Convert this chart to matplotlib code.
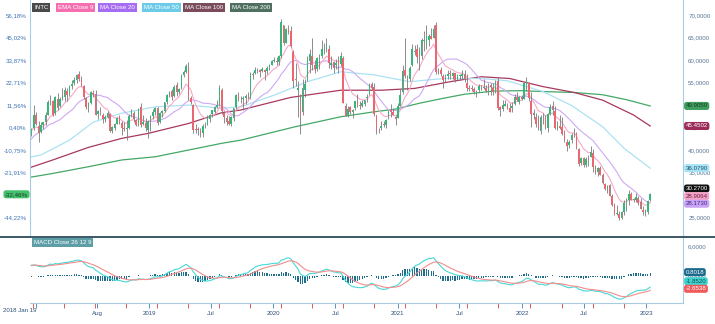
import numpy as np
import pandas as pd
import matplotlib
matplotlib.use("Agg")
import matplotlib.pyplot as plt
import matplotlib.dates as mdates
import matplotlib.transforms as mtrans

plt.rcParams['font.family'] = ['Liberation Sans', 'DejaVu Sans']

# ---------------- data (weekly INTC, Fridays from 2018-01-19) ----------------
start_date = "2018-01-19"
first_close = 44.82

opens = [
    # 2018
    43.6, 45.0, 48.0, 45.5, 44.2, 45.6, 46.3, 48.0, 50.9, 51.0, 48.3, 51.4, 49.8, 51.6, 52.0,
    53.2, 52.5, 54.4, 54.9, 55.6, 57.0, 55.6, 54.3, 51.6, 49.8, 50.6, 52.8, 52.6, 48.1, 48.7,
    48.0, 47.0, 47.5, 48.2, 44.4, 45.0, 46.0, 47.5, 46.2, 45.0, 44.7, 45.0, 47.8, 48.3, 46.7,
    45.8, 49.6, 46.0, 46.2, 44.5,
    # 2019
    46.9, 47.6, 48.5, 49.4, 46.4, 48.4, 48.8, 50.7, 52.5, 53.2, 52.2, 54.5, 53.0, 54.0, 56.7,
    57.5, 58.5, 51.6, 50.2, 44.8, 44.7, 44.4, 43.9, 45.6, 45.7, 47.1, 48.1, 48.6, 49.7, 50.5,
    53.5, 48.3, 47.2, 46.5, 45.9, 47.2, 49.6, 52.3, 51.3, 51.5, 51.6, 52.0, 51.8, 56.8, 57.3,
    57.9, 57.8, 57.7, 58.0, 57.6, 58.5, 59.1,
    # 2020
    59.8, 60.0, 59.6, 61.0, 67.8, 64.0, 67.0, 66.5, 62.0, 56.0, 53.5, 50.0, 48.5, 53.4, 55.7,
    60.0, 61.0, 59.0, 58.2, 60.4, 61.0, 63.0, 62.5, 62.5, 59.0, 59.6, 59.0, 59.8, 59.3, 60.5,
    49.8, 47.9, 49.6, 48.5, 49.4, 50.8, 50.2, 50.0, 50.3, 51.6, 52.5, 54.7, 54.2, 47.8, 44.3,
    45.0, 45.8, 45.7, 47.8, 48.9, 48.6, 47.5,
    # 2021
    47.3, 49.9, 53.0, 57.8, 56.0, 55.8, 59.0, 62.2, 62.5, 61.3, 61.0, 64.4, 63.5, 64.5, 65.5,
    65.0, 67.9, 57.5, 57.8, 56.5, 55.8, 56.5, 57.2, 56.6, 57.2, 56.0, 56.5, 56.6, 57.0, 55.0,
    54.0, 53.8, 53.6, 52.8, 53.4, 54.0, 54.0, 54.0, 52.9, 54.6, 54.0, 53.0, 55.5, 49.7, 49.3,
    50.0, 50.2, 49.5, 49.4, 50.4, 52.0, 50.8, 52.0,
    # 2022
    51.5, 54.5, 55.0, 51.0, 48.3, 47.5, 46.1, 44.4, 47.5, 47.5, 45.0, 48.2, 49.8, 48.8, 44.9,
    45.5, 45.3, 43.5, 42.0, 41.2, 42.3, 44.0, 43.8, 40.3, 37.3, 38.4, 36.8, 38.0, 38.5, 39.5,
    36.2, 35.3, 36.2, 34.6, 32.5, 31.5, 32.3, 29.8, 27.8, 25.9, 26.0, 25.1, 26.3, 28.5, 28.9,
    30.3, 29.1, 29.1, 29.5, 28.5, 26.8, 26.2,
    # 2023
    26.4, 28.9,
]
highs = [
    44.9, 50.2, 48.6, 46.5, 46.3, 46.4, 48.5, 51.2, 52.4, 51.3, 52.2, 52.7, 52.0, 53.8, 54.2,
    53.9, 54.6, 55.6, 56.3, 57.0, 57.6, 56.6, 54.5, 52.0, 50.8, 53.2, 53.4, 53.5, 49.1, 49.6,
    48.3, 47.9, 48.7, 48.3, 45.5, 46.2, 47.4, 48.0, 46.6, 46.4, 46.8, 48.2, 49.2, 48.7, 47.0,
    49.5, 50.5, 47.9, 47.2, 46.8,
    48.0, 49.3, 49.6, 49.7, 48.5, 49.1, 50.8, 52.5, 53.3, 53.6, 54.5, 55.3, 54.0, 57.0, 58.0,
    59.3, 59.6, 52.1, 50.4, 45.9, 45.2, 45.1, 46.0, 46.3, 47.9, 48.1, 49.1, 50.0, 51.2, 54.5,
    53.8, 48.8, 47.8, 47.6, 47.6, 49.5, 52.5, 53.1, 52.2, 52.2, 52.6, 53.0, 57.5, 57.4, 58.5,
    58.4, 58.1, 58.6, 58.2, 58.8, 59.3, 60.1,
    60.8, 60.7, 61.2, 69.3, 68.0, 67.3, 67.8, 67.6, 62.3, 59.5, 55.5, 52.5, 56.0, 56.0, 60.9,
    62.5, 65.1, 60.2, 60.8, 61.5, 64.5, 64.0, 65.1, 63.5, 61.0, 60.0, 60.3, 61.0, 62.0, 61.0,
    50.6, 49.9, 50.0, 49.2, 51.0, 52.6, 51.0, 51.2, 51.3, 52.5, 55.0, 55.2, 55.0, 48.0, 45.0,
    46.6, 46.6, 47.0, 49.0, 50.4, 49.5, 47.9,
    50.5, 53.6, 59.0, 64.9, 56.8, 58.8, 63.7, 63.5, 63.7, 63.0, 65.0, 66.6, 68.0, 65.8, 67.3,
    68.0, 68.5, 58.3, 58.5, 57.0, 57.0, 57.8, 58.0, 57.5, 57.3, 57.0, 56.9, 58.0, 58.0, 57.0,
    54.5, 54.5, 54.2, 53.4, 54.7, 54.5, 56.0, 54.5, 54.9, 55.0, 55.0, 55.7, 56.3, 49.8, 51.3,
    51.2, 50.5, 50.5, 50.7, 52.6, 53.0, 52.1, 52.3,
    55.0, 56.3, 55.3, 53.0, 49.3, 48.4, 48.0, 47.8, 48.3, 48.0, 48.4, 50.3, 51.0, 49.8, 46.5,
    48.0, 47.5, 44.5, 42.5, 42.3, 43.9, 45.0, 44.2, 40.5, 38.5, 38.5, 38.6, 39.0, 41.0, 40.3,
    36.8, 36.3, 36.5, 34.9, 32.8, 32.3, 32.5, 30.3, 28.3, 28.0, 26.5, 26.5, 29.1, 29.5, 31.3,
    30.8, 29.4, 30.6, 29.8, 29.4, 27.6, 27.0,
    28.9, 30.6,
]
lows = [
    43.2, 44.6, 45.6, 42.0, 44.0, 44.8, 45.6, 47.9, 50.2, 47.6, 47.8, 48.9, 49.6, 51.3, 50.9,
    51.0, 52.2, 53.6, 54.5, 54.9, 55.5, 54.4, 51.4, 49.3, 48.6, 50.4, 51.8, 47.8, 47.0, 47.9,
    46.2, 46.4, 47.2, 44.1, 44.0, 44.6, 45.8, 45.9, 43.4, 44.4, 42.4, 44.8, 47.4, 46.3, 45.4,
    45.5, 45.3, 45.6, 44.3, 42.8,
    44.4, 47.0, 47.9, 45.7, 46.1, 47.5, 48.5, 50.4, 51.9, 51.2, 52.0, 52.1, 52.5, 53.7, 56.4,
    57.2, 51.2, 50.4, 44.0, 43.9, 43.5, 43.0, 42.9, 45.0, 45.6, 46.4, 47.4, 48.4, 49.5, 50.0,
    48.2, 46.1, 45.6, 45.6, 45.4, 46.6, 49.3, 51.0, 50.6, 49.0, 50.4, 51.4, 51.5, 55.9, 57.0,
    57.2, 56.3, 57.4, 55.7, 56.9, 58.0, 58.9,
    59.6, 58.9, 59.1, 60.5, 63.5, 63.9, 66.0, 63.0, 53.9, 54.4, 47.5, 43.6, 48.0, 51.8, 55.5,
    57.3, 58.0, 57.3, 57.6, 58.2, 60.5, 61.5, 62.0, 58.4, 58.2, 57.3, 58.2, 57.3, 58.8, 50.5,
    47.7, 47.5, 48.2, 47.2, 49.0, 49.6, 49.3, 49.6, 49.9, 50.7, 52.3, 53.5, 47.6, 43.6, 43.8,
    44.6, 45.3, 45.1, 47.1, 47.5, 47.8, 45.6,
    47.2, 49.8, 52.5, 56.1, 53.5, 55.5, 58.7, 61.3, 59.5, 58.0, 60.4, 62.2, 62.5, 63.2, 64.7,
    64.9, 57.0, 56.9, 56.5, 53.8, 55.2, 55.9, 55.8, 56.0, 55.2, 55.6, 55.7, 55.8, 55.3, 53.2,
    53.2, 53.2, 52.6, 51.8, 53.0, 53.4, 53.7, 52.9, 52.4, 52.3, 52.4, 52.8, 49.1, 47.7, 48.8,
    49.8, 49.3, 48.6, 48.5, 50.2, 50.9, 50.3, 51.3,
    51.4, 53.2, 51.0, 45.2, 47.0, 45.2, 44.5, 43.6, 46.0, 44.7, 44.2, 47.8, 48.0, 44.7, 44.5,
    44.8, 43.4, 41.8, 40.0, 40.6, 41.6, 42.9, 40.3, 36.6, 36.8, 36.3, 36.3, 36.6, 38.5, 35.2,
    34.8, 34.4, 34.5, 32.5, 31.3, 30.6, 29.9, 27.7, 25.7, 25.7, 24.6, 24.8, 25.6, 26.6, 27.9,
    28.9, 28.6, 28.6, 27.9, 26.9, 25.6, 25.5,
    26.0, 28.7,
]
closes = [
    44.82, 48.0, 45.8, 44.0, 45.6, 46.3, 47.9, 50.8, 50.9, 48.0, 52.0, 49.5, 51.4, 52.2, 53.4,
    52.3, 54.4, 54.8, 55.6, 56.8, 55.9, 54.6, 51.8, 49.7, 50.6, 52.9, 52.5, 48.0, 48.8, 48.3,
    46.9, 47.5, 48.4, 44.4, 45.2, 46.0, 47.3, 46.4, 45.0, 44.8, 44.9, 47.6, 48.5, 47.0, 45.7,
    49.3, 45.6, 46.3, 44.9, 46.6,
    47.6, 48.6, 49.5, 46.2, 48.3, 48.8, 50.7, 52.3, 53.1, 51.9, 54.2, 52.9, 53.7, 56.6, 57.5,
    58.7, 51.9, 50.7, 44.6, 44.6, 44.5, 44.0, 45.4, 45.6, 47.2, 47.9, 48.9, 49.6, 50.2, 53.9,
    48.7, 47.4, 46.4, 45.8, 47.4, 49.4, 52.3, 51.4, 51.3, 51.6, 52.1, 51.8, 56.8, 57.1, 58.0,
    57.8, 57.5, 58.1, 57.4, 58.3, 58.9, 60.0,
    60.1, 59.6, 61.0, 68.5, 63.9, 66.9, 66.4, 63.3, 55.5, 55.7, 54.0, 48.0, 54.0, 54.8, 60.1,
    61.4, 59.0, 58.2, 60.5, 60.6, 62.5, 62.9, 63.5, 59.5, 59.5, 58.3, 59.5, 58.9, 61.0, 50.6,
    47.7, 49.3, 48.6, 49.1, 50.9, 50.2, 49.8, 50.5, 51.2, 52.0, 54.5, 54.0, 48.2, 44.3, 44.3,
    45.5, 45.6, 46.7, 48.5, 48.5, 47.9, 46.9,
    49.8, 52.4, 57.6, 56.5, 55.5, 58.4, 62.5, 62.0, 60.8, 61.0, 64.5, 64.6, 65.4, 65.4, 64.8,
    67.0, 57.5, 57.5, 57.0, 55.6, 55.8, 57.1, 56.9, 57.3, 55.6, 56.8, 56.7, 57.0, 55.6, 54.0,
    53.7, 53.7, 53.0, 53.1, 54.4, 54.0, 54.1, 53.2, 54.2, 54.1, 53.1, 55.2, 49.5, 49.0, 50.1,
    50.3, 49.4, 48.6, 49.8, 52.0, 51.2, 51.9, 51.5,
    54.9, 55.5, 51.6, 48.1, 47.8, 46.0, 45.0, 47.4, 47.4, 45.0, 48.1, 49.7, 49.1, 45.0, 45.6,
    45.0, 43.6, 42.3, 41.0, 41.9, 43.5, 43.9, 40.8, 37.1, 38.4, 36.8, 38.2, 37.8, 39.7, 36.3,
    35.2, 36.2, 34.6, 32.7, 31.4, 32.2, 30.0, 27.9, 25.8, 26.1, 25.0, 26.4, 28.4, 28.9, 30.4,
    29.1, 29.2, 29.6, 28.3, 27.0, 26.4, 26.4,
    28.8, 30.27,
]
# weekly closes before the visible range (Jun 2017 - Jan 12 2018), used for indicator warm-up
prior_closes = [35.7, 34.6, 33.7, 33.9, 34.3, 34.9, 35.4, 36.3, 35.7, 34.8, 34.9, 35.2, 35.7,
                36.6, 37.4, 38.1, 39.6, 40.1, 40.7, 44.4, 45.9, 45.0, 45.1, 45.2, 43.8, 43.6,
                44.3, 46.6, 46.2, 44.7, 43.1]

# long moving averages (week index -> value)
ma50_weeks = [0, 4, 16, 26, 38, 52, 66, 80, 88, 102, 116, 130, 144, 159, 173, 189, 200, 208, 215, 227, 240, 249, 260]
ma50_vals = [38.6, 39.0, 42.3, 46.3, 48.3, 49.7, 50.1, 49.4, 49.7, 52.3, 55.3, 57.5, 56.8, 55.3, 56.0, 56.0, 55.5, 54.2, 53.1, 50.0, 45.3, 40.5, 36.08]
ma100_weeks = [0, 9, 24, 38, 49, 66, 80, 88, 109, 130, 147, 161, 176, 189, 201, 215, 228, 240, 253, 260]
ma100_vals = [36.3, 37.9, 40.7, 42.7, 43.8, 46.0, 48.4, 49.0, 51.8, 53.4, 53.4, 53.8, 55.3, 56.4, 56.0, 54.2, 52.9, 51.2, 47.9, 45.45]
ma200_weeks = [0, 9, 24, 38, 52, 66, 80, 88, 111, 130, 144, 153, 163, 173, 182, 194, 206, 215, 228, 240, 250, 260]
ma200_vals = [34.1, 34.9, 36.4, 37.9, 38.6, 40.1, 41.6, 42.3, 45.3, 47.5, 48.6, 49.2, 50.5, 51.6, 52.5, 53.2, 53.3, 53.1, 52.9, 52.4, 51.3, 49.9]

earnings_dates = ["2018-01-25", "2018-04-26", "2018-07-26", "2018-10-25", "2019-01-24", "2019-04-25",
                  "2019-07-25", "2019-10-24", "2020-01-23", "2020-04-23", "2020-07-23", "2020-10-22",
                  "2021-01-21", "2021-04-22", "2021-07-22", "2021-10-21", "2022-01-26", "2022-04-28",
                  "2022-07-28", "2022-10-27"]

price_ticks = [25, 30, 35, 40, 45, 50, 55, 60, 65, 70]
right_price_ticks = [25, 35, 40, 45, 55, 60, 65, 70]   # 30 and 50 sit under the value tags
macd_ticks = [0, 6]
xtick_dates = ["2018-02-01", "2018-08-01", "2019-01-01", "2019-07-01", "2020-01-01", "2020-07-01",
               "2021-01-01", "2021-07-01", "2022-01-01", "2022-07-01", "2023-01-01"]
xtick_labels = ["", "Aug", "2019", "Jul", "2020", "Jul", "2021", "Jul", "2022", "Jul", "2023"]

legend_names = ["INTC", "EMA Close 9", "MA Close 20", "MA Close 50", "MA Close 100", "MA Close 200"]
price_tag_vals = [49.9050, 45.4502, 36.0790, 30.2700, 28.9064, 28.1730]
macd_tag_vals = [0.8018, -1.8520, -2.6538]

# ---------------- computations ----------------
n = len(closes)
dates = pd.date_range(start_date, periods=n, freq="W-FRI")
xd = mdates.date2num(dates)
o = np.array(opens); h = np.array(highs); l = np.array(lows); c = np.array(closes)

full = pd.Series(prior_closes + closes)
npre = len(prior_closes)
ema9 = full.ewm(span=9, adjust=False).mean().values[npre:]
ma20 = full.rolling(20, min_periods=1).mean().values[npre:]
ema12 = full.ewm(span=12, adjust=False).mean()
ema26 = full.ewm(span=26, adjust=False).mean()
macd = (ema12 - ema26)
signal = macd.ewm(span=9, adjust=False).mean()
hist = (macd - signal).values[npre:]
macd = macd.values[npre:]
signal = signal.values[npre:]

def sparse_line(weeks, vals):
    return xd[np.array(weeks)], np.array(vals)

# ---------------- figure ----------------
W, H = 715, 324
fig = plt.figure(figsize=(W / 100, H / 100), dpi=100)

def fx(px):
    return px / W

def fy(py):
    return 1 - py / H

ax = fig.add_axes([fx(30), fy(236), fx(683) - fx(30), fy(0) - fy(236)])
ax2 = fig.add_axes([fx(30), fy(303), fx(683) - fx(30), fy(237) - fy(303)], sharex=ax)

spine_col = "#a9cbe0"
for a in (ax, ax2):
    for s in a.spines.values():
        s.set_color(spine_col)
        s.set_linewidth(0.8)
ax.spines["top"].set_visible(False)
ax.spines["bottom"].set_visible(False)
ax2.spines["top"].set_visible(False)
ax2.spines["left"].set_visible(False)

# moving average lines
ax.plot(*sparse_line(ma200_weeks, ma200_vals), color="#43a866", lw=0.9, zorder=2)
ax.plot(*sparse_line(ma100_weeks, ma100_vals), color="#a8395e", lw=0.9, zorder=2)
ax.plot(*sparse_line(ma50_weeks, ma50_vals), color="#abe2f3", lw=0.9, zorder=2)
ax.plot(xd, ma20, color="#cdaaf3", lw=0.8, zorder=2)
ax.plot(xd, ema9, color="#f7aac8", lw=0.8, zorder=2)

# candles
up = c >= o
ax.vlines(xd, l, h, color="#7a7a7a", lw=0.6, zorder=3)
body_w = 4.6
ax.bar(xd[up], (c - o)[up], bottom=o[up], width=body_w, color="#35b877", zorder=4, linewidth=0)
ax.bar(xd[~up], (o - c)[~up], bottom=c[~up], width=body_w, color="#ec6670", zorder=4, linewidth=0)

left = xd[0] - 4
right = left + (683 - 30) / 0.34
ax.set_xlim(left, right)
ax.set_ylim(21.0, 73.45)

# MACD panel
ax2.bar(xd, hist, width=3.8, color="#1f6e8e", linewidth=0, zorder=3)
ax2.plot(xd, macd, color="#48d8d6", lw=0.8, zorder=4)
ax2.plot(xd, signal, color="#f38d8d", lw=0.8, zorder=4)
ax2.set_ylim(-5.6, 8.1)

# ticks / labels
fs = 4.4
ax.set_yticks([])
ax2.set_yticks([])
ax.tick_params(axis="x", which="both", bottom=False, labelbottom=False)
ax2.set_xticks(mdates.date2num(pd.to_datetime(xtick_dates)))
ax2.set_xticklabels(xtick_labels)
ax2.set_xticks(mdates.date2num(pd.to_datetime(earnings_dates)), minor=True)
ax2.tick_params(axis="x", which="major", length=3.5, width=0.7, color="#5b8fc0",
                labelsize=fs, labelcolor="#2c4f7c", pad=2)
ax2.tick_params(axis="x", which="minor", length=3.5, width=0.7, color="#e25a5a")
fig.text(fx(3), fy(311), "2018 Jan 19", fontsize=fs, color="#2c4f7c", ha="left", va="center")

blend = mtrans.blended_transform_factory(ax.transAxes, ax.transData)
for p in price_ticks:
    if p == 30:
        continue  # covered by the last-close percentage tag
    pct = (p / first_close - 1) * 100
    ax.text(-0.005, p, f"{pct:.2f}%".replace(".", ","), transform=blend, ha="right", va="center",
            fontsize=fs, color="#3d74b5", clip_on=False)
for p in right_price_ticks:
    ax.text(1.008, p, f"{p:.4f}".replace(".", ","), transform=blend, ha="left", va="center",
            fontsize=fs, color="#5a7896", clip_on=False)
blend2 = mtrans.blended_transform_factory(ax2.transAxes, ax2.transData)
for p in macd_ticks:
    ax2.text(1.008, p, f"{p:.4f}".replace(".", ","), transform=blend2, ha="left", va="center",
             fontsize=fs, color="#5a7896", clip_on=False)

def stack(vals, px_per_unit, gap_px=7.6):
    pos = list(vals)
    order = np.argsort(vals)  # ascending value = from bottom
    prev = None
    for i in order:
        if prev is not None and pos[i] - prev < gap_px / px_per_unit:
            pos[i] = prev + gap_px / px_per_unit
        prev = pos[i]
    return pos

price_tag_style = [("#3f9e5e", "#173d22"), ("#9c2d5a", "white"), ("#a8e3f5", "#1d4f6b"),
                   ("#111111", "white"), ("#f5a3c7", "#6b2040"), ("#c9a3f5", "#4a2a7a")]
pos = stack(price_tag_vals, 4.5)
for v, yv, (fc, tc) in zip(price_tag_vals, pos, price_tag_style):
    ax.text(1.004, yv, f"{v:.4f}", transform=blend, ha="left", va="center", fontsize=fs,
            color=tc, clip_on=False, zorder=10,
            bbox=dict(boxstyle="round,pad=0.25,rounding_size=0.4", fc=fc, ec="none"))

macd_tag_style = [("#1b6a8c", "white"), ("#3fd3cf", "#0f4d4d"), ("#f05a5a", "white")]
pos2 = stack(macd_tag_vals, 4.83)
for v, yv, (fc, tc) in zip(macd_tag_vals, pos2, macd_tag_style):
    ax2.text(1.004, yv, f"{v:.4f}", transform=blend2, ha="left", va="center", fontsize=fs,
             color=tc, clip_on=False, zorder=10,
             bbox=dict(boxstyle="round,pad=0.25,rounding_size=0.4", fc=fc, ec="none"))

# left percentage tag for last close
last_pct = (closes[-1] / first_close - 1) * 100
ax.text(-0.003, closes[-1], f"{last_pct:.2f}%".replace(".", ","), transform=blend, ha="right",
        va="center", fontsize=fs, color="#153d22", clip_on=False, zorder=10,
        bbox=dict(boxstyle="round,pad=0.25,rounding_size=0.4", fc="#45c06d", ec="none"))

# legend chips
legend_cols = ["#4a4a4a", "#f56eb0", "#a66cf2", "#6ccbe8", "#7a4c5c", "#4f7060"]
legend_x = [32, 56, 98, 142, 183, 230]
for name, col, x0 in zip(legend_names, legend_cols, legend_x):
    fig.text(fx(x0 + 2), fy(7.5), name, fontsize=fs, color="white", ha="left", va="center",
             bbox=dict(boxstyle="square,pad=0.3", fc=col, ec="none"))
fig.text(fx(34), fy(242.5), "MACD Close 26 12 9", fontsize=fs, color="white", ha="left", va="center",
         bbox=dict(boxstyle="square,pad=0.3", fc="#5e9ea6", ec="none"))

# panel separator
fig.add_artist(plt.Line2D([0, 1], [fy(236.5), fy(236.5)], transform=fig.transFigure,
                          color="#2c4a5a", lw=1.3))

fig.savefig("out.png", dpi=100)
